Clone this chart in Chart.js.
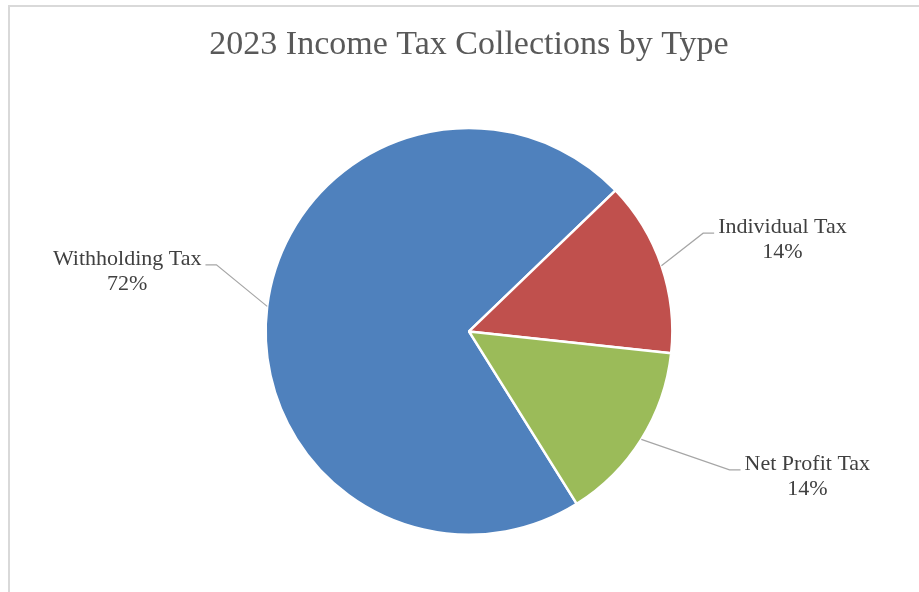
<!DOCTYPE html>
<html lang="en">
<head>
    <meta charset="UTF-8">
    <title>2023 Income Tax Collections by Type</title>
    <script src="https://cdn.jsdelivr.net/npm/chart.js"></script>
    <style>
        html, body { margin:0; padding:0; background:#fff; }
        #wrap { width:919px; height:592px; }
    </style>
</head>
<body>

<div id="wrap">
    <canvas id="taxChart"></canvas>
</div>

<script>
const labels = ['Withholding Tax', 'Individual Tax', 'Net Profit Tax'];
const shares = [71.7, 13.9, 14.4];   // percent of collections
const colors = ['#4F81BD', '#C0504D', '#9BBB59'];

// where each label block sits, relative to the middle of its slice's edge
const labelShift = [[-140, -35], [121, -26], [166, 37]];

const serif = "'Liberation Serif', 'Times New Roman', serif";

// light frame around the chart, like the Excel chart border
const framePlugin = {
  id: 'frame',
  beforeDraw(chart) {
    const ctx = chart.ctx;
    ctx.save();
    ctx.fillStyle = '#d9d9d9';
    ctx.fillRect(8, 5, chart.width, 2);
    ctx.fillRect(8, 5, 2, chart.height);
    ctx.restore();
  }
};

// category name + percent with a leader line to the slice
const pieLabels = {
  id: 'pieLabels',
  afterDatasetsDraw(chart) {
    const ctx = chart.ctx;
    const meta = chart.getDatasetMeta(0);
    const values = chart.data.datasets[0].data;
    const total = values.reduce((a, b) => a + b, 0);
    ctx.save();
    ctx.font = '22px ' + serif;
    ctx.textAlign = 'center';
    ctx.textBaseline = 'middle';
    meta.data.forEach((arc, i) => {
      const p = arc.getProps(['x', 'y', 'startAngle', 'endAngle', 'outerRadius'], true);
      const mid = (p.startAngle + p.endAngle) / 2;
      const ex = p.x + p.outerRadius * Math.cos(mid);
      const ey = p.y + p.outerRadius * Math.sin(mid);
      const cx = ex + labelShift[i][0];
      const cy = ey + labelShift[i][1];
      const line1 = chart.data.labels[i];
      const line2 = Math.round(values[i] / total * 100) + '%';
      const w = Math.max(ctx.measureText(line1).width, ctx.measureText(line2).width);
      const y1 = cy - 12.5;

      // leader line
      const ly = y1 + 6;
      const left = cx < ex;
      const tEdge = left ? cx + w / 2 + 4 : cx - w / 2 - 4;
      const elbow = left ? tEdge + 11 : tEdge - 11;
      ctx.strokeStyle = '#a6a6a6';
      ctx.lineWidth = 1.2;
      ctx.beginPath();
      ctx.moveTo(tEdge, ly);
      ctx.lineTo(elbow, ly);
      ctx.lineTo(ex, ey);
      ctx.stroke();

      ctx.fillStyle = '#404040';
      ctx.fillText(line1, cx, y1);
      ctx.fillText(line2, cx, y1 + 25);
    });
    ctx.restore();
  }
};

const config = {
  type: 'pie',
  data: {
    labels: labels,
    datasets: [{
      data: shares,
      backgroundColor: colors,
      borderColor: '#ffffff',
      borderWidth: 2.5,
      hoverOffset: 0
    }]
  },
  options: {
    responsive: true,
    maintainAspectRatio: false,
    animation: false,
    rotation: 148,
    layout: {
      padding: { left: 19, right: 0, top: 0, bottom: 56 }
    },
    plugins: {
      legend: { display: false },
      tooltip: { enabled: false },
      title: {
        display: true,
        text: '2023 Income Tax Collections by Type',
        color: '#595959',
        font: { family: serif, size: 34, weight: 'normal' },
        padding: { top: 25, bottom: 61 }
      }
    }
  },
  plugins: [framePlugin, pieLabels]
};

var taxChart = new Chart(document.getElementById('taxChart'), config);
</script>

</body>
</html>
